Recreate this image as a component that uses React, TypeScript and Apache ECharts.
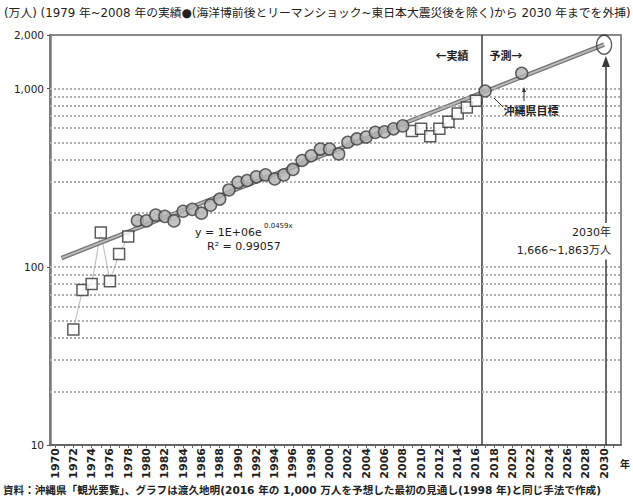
import { useEffect, useRef } from "react";
import * as echarts from "echarts";

// ---- data (万人) ----
const EXCLUDED_EARLY: [number, number][] = [
  [1972, 44.5], [1973, 74], [1974, 80], [1975, 156], [1976, 83], [1977, 118], [1978, 148],
];
const FIT_YEARS: [number, number][] = [
  [1979, 182], [1980, 181], [1981, 195], [1982, 192], [1983, 181], [1984, 205], [1985, 210],
  [1986, 200], [1987, 222], [1988, 240], [1989, 270], [1990, 298], [1991, 305], [1992, 320],
  [1993, 328], [1994, 311], [1995, 328], [1996, 352], [1997, 395], [1998, 420], [1999, 458],
  [2000, 458], [2001, 430], [2002, 500], [2003, 522], [2004, 535], [2005, 568], [2006, 572],
  [2007, 595], [2008, 618],
];
const EXCLUDED_LATE: [number, number][] = [
  [2009, 578], [2010, 596], [2011, 541], [2012, 596], [2013, 652], [2014, 725], [2015, 783], [2016, 856],
];
const TARGETS: [number, number][] = [[2017, 970], [2021, 1220]];
const PROJECTION_2030: [number, number][] = [[2030, 1765]];
const TREND: [number, number][] = [[1970.7, 112], [2030, 1765]];

const GRID_VALUES = [20, 30, 40, 50, 60, 70, 80, 90, 100, 200, 300, 400, 500, 600, 700, 800, 900, 1000];
const Y_LABELS = [10, 100, 1000, 2000];
const X_LABELS = [
  1970, 1972, 1974, 1976, 1978, 1980, 1982, 1984, 1986, 1988, 1990, 1992, 1994, 1996, 1998, 2000,
  2002, 2004, 2006, 2008, 2010, 2012, 2014, 2016, 2018, 2020, 2022, 2024, 2026, 2028, 2030,
];
const X_TICKS = [
  1970, 1971, 1972, 1973, 1974, 1975, 1976, 1977, 1978, 1979, 1980, 1981, 1982, 1983, 1984, 1985,
  1986, 1987, 1988, 1989, 1990, 1991, 1992, 1993, 1994, 1995, 1996, 1997, 1998, 1999, 2000, 2001,
  2002, 2003, 2004, 2005, 2006, 2007, 2008, 2009, 2010, 2011, 2012, 2013, 2014, 2015, 2016, 2017,
  2018, 2019, 2020, 2021, 2022, 2023, 2024, 2025, 2026, 2027, 2028, 2029, 2030, 2031,
];
const DIVIDER_YEAR = 2016.6;
const ARROW_YEAR = 2030.2;

const TITLE =
  "(万人) (1979 年~2008 年の実績●(海洋博前後とリーマンショック~東日本大震災後を除く)から 2030 年までを外挿)";
const SOURCE =
  "資料：沖縄県「観光要覧」、グラフは渡久地明(2016 年の 1,000 万人を予想した最初の見通し(1998 年)と同じ手法で作成)";

const JP = '"Noto Sans CJK JP", "Noto Sans", sans-serif';
const NUM = '"DejaVu Sans", sans-serif';
const NUM_JP = '"DejaVu Sans", "Noto Sans CJK JP", sans-serif';

export default function App() {
  const ref = useRef<HTMLDivElement>(null);
  useEffect(() => {
    if (!ref.current) return;
    const chart = echarts.init(ref.current, undefined, { renderer: "svg" });
    const actualAll = [...EXCLUDED_EARLY, ...FIT_YEARS, ...EXCLUDED_LATE];
    const txt = (x: number, y: number, text: string, extra: any = {}) => ({
      type: "text",
      x,
      y,
      z: 20,
      style: {
        text,
        fill: "#222",
        font: `${extra.weight || "normal"} ${extra.size || 11}px ${extra.family || JP}`,
        textAlign: extra.align || "left",
        textVerticalAlign: "middle",
      },
    });
    chart.setOption({
      animation: false,
      backgroundColor: "#fff",
      grid: {
        left: 50,
        right: 12,
        top: 35,
        bottom: 56,
        show: true,
        borderColor: "#8a8a8a",
        borderWidth: 2,
        backgroundColor: "transparent",
      },
      xAxis: {
        type: "value",
        min: 1969.45,
        max: 2031.85,
        splitLine: { show: false },
        axisLine: { show: true, lineStyle: { color: "#666", width: 2 } },
        axisTick: {
          show: true,
          length: 3,
          customValues: X_TICKS,
          lineStyle: { color: "#666" },
        },
        axisLabel: {
          customValues: X_LABELS,
          rotate: 90,
          margin: 3,
          fontSize: 11,
          fontWeight: "bold",
          fontFamily: NUM,
          color: "#222",
          formatter: (v: number) => String(Math.round(v)),
        },
      },
      yAxis: {
        type: "log",
        logBase: 10,
        min: 10,
        max: 2000,
        splitLine: { show: false },
        axisLine: { show: true, lineStyle: { color: "#7a7a7a", width: 2.5 } },
        axisTick: { show: true, length: 3, customValues: Y_LABELS, lineStyle: { color: "#555" } },
        axisLabel: {
          customValues: Y_LABELS,
          margin: 6,
          fontSize: 10.5,
          fontFamily: NUM,
          color: "#222",
          formatter: (v: number) => Math.round(v).toLocaleString("en-US"),
        },
      },
      series: [
        {
          type: "line",
          data: actualAll,
          showSymbol: false,
          lineStyle: { color: "#c4c4c4", width: 1.2 },
          z: 1,
          silent: true,
          markLine: {
            silent: true,
            symbol: "none",
            label: { show: false },
            lineStyle: { color: "#b0b0b0", type: [2, 2], width: 2 },
            data: GRID_VALUES.map((v) => ({ yAxis: v })),
          },
        },
        {
          type: "line",
          data: [],
          silent: true,
          markLine: {
            silent: true,
            symbol: "none",
            label: { show: false },
            lineStyle: { color: "#3a3a3a", type: "solid", width: 1.5 },
            data: [{ xAxis: DIVIDER_YEAR }],
            z: 3,
          },
        },
        {
          type: "line",
          data: [],
          silent: true,
          markLine: {
            silent: true,
            symbol: ["none", "none"],
            label: { show: false },
            lineStyle: { color: "#3a3a3a", type: "solid", width: 1.5 },
            data: [[{ coord: [ARROW_YEAR, 10] }, { coord: [ARROW_YEAR, 110] }]],
          },
        },
        {
          type: "line",
          data: [],
          silent: true,
          markLine: {
            silent: true,
            symbol: ["none", "triangle"],
            symbolSize: [8, 11],
            label: { show: false },
            lineStyle: { color: "#3a3a3a", type: "solid", width: 1.5 },
            itemStyle: { color: "#222" },
            data: [[{ coord: [ARROW_YEAR, 176] }, { coord: [ARROW_YEAR, 1420] }]],
          },
        },
        {
          type: "line",
          data: TREND,
          showSymbol: false,
          lineStyle: { color: "#767676", width: 4.5 },
          z: 3,
          silent: true,
        },
        {
          type: "line",
          data: TREND,
          showSymbol: false,
          lineStyle: { color: "#bcbcbc", width: 1.8 },
          z: 4,
          silent: true,
        },
        {
          type: "scatter",
          data: [...EXCLUDED_EARLY, ...EXCLUDED_LATE],
          symbol: "rect",
          symbolSize: 11,
          itemStyle: { color: "#fff", borderColor: "#333", borderWidth: 1.5 },
          z: 5,
        },
        {
          type: "scatter",
          data: [...FIT_YEARS, ...TARGETS],
          symbol: "circle",
          symbolSize: 12,
          itemStyle: { color: "#b3b3b3", borderColor: "#3d3d3d", borderWidth: 1.5 },
          z: 6,
        },
        {
          type: "scatter",
          data: PROJECTION_2030,
          symbol: "circle",
          symbolSize: [15, 19],
          itemStyle: { color: "rgba(255,255,255,0)", borderColor: "#333", borderWidth: 1.5 },
          z: 6,
        },
      ],
      graphic: [
        txt(4, 13, TITLE, { size: 11.8, family: NUM_JP }),
        txt(3, 490, SOURCE, { size: 10.6, weight: "bold", family: NUM_JP }),
        txt(452, 55, "←実績", { weight: "bold", align: "center" }),
        txt(506, 55, "予測→", { weight: "bold", align: "center" }),
        txt(531, 110, "沖縄県目標", { weight: "bold", align: "center" }),
        {
          type: "line",
          z: 20,
          shape: { x1: 494, y1: 98, x2: 503, y2: 107 },
          style: { stroke: "#333", lineWidth: 1 },
        },
        {
          type: "line",
          z: 20,
          shape: { x1: 524, y1: 91, x2: 524, y2: 101 },
          style: { stroke: "#333", lineWidth: 1 },
        },
        {
          type: "polygon",
          z: 20,
          shape: { points: [[524, 87], [522, 92], [526, 92]] },
          style: { fill: "#333" },
        },
        txt(195, 232, "y = 1E+06e", { size: 11, family: NUM }),
        txt(264, 226, "0.0459x", { size: 7, family: NUM }),
        txt(207, 246, "R² = 0.99057", { size: 11, family: NUM }),
        txt(611, 232, "2030年", { size: 11, align: "right", family: NUM_JP }),
        txt(611, 250, "1,666~1,863万人", { size: 11, align: "right", family: NUM_JP }),
        txt(625, 463, "年", { size: 10, weight: "bold", align: "center" }),
      ],
    });
    return () => chart.dispose();
  }, []);
  return (
    <div
      ref={ref}
      style={{ position: "absolute", left: 0, top: 0, width: 633, height: 501, background: "#fff" }}
    />
  );
}
